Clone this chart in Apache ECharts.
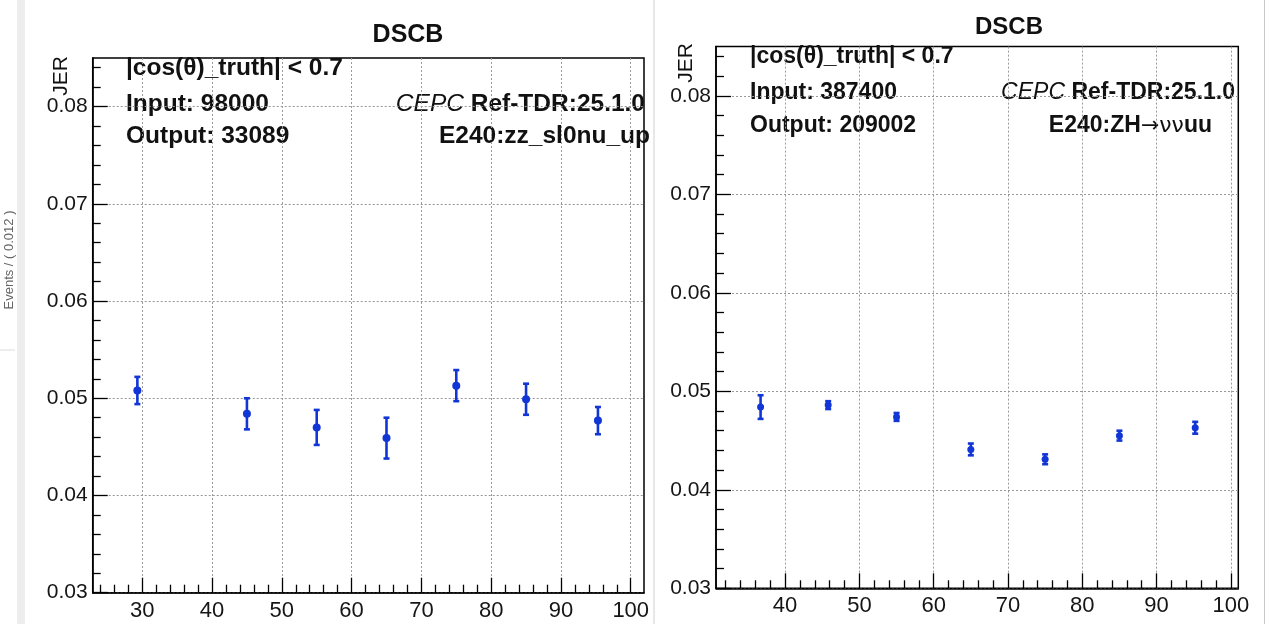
<!DOCTYPE html>
<html>
<head>
<meta charset="utf-8">
<title>DSCB JER</title>
<script src="https://cdn.jsdelivr.net/npm/echarts@6/dist/echarts.min.js"></script>
<style>
    html, body { margin: 0; padding: 0; background: #fff; }
    #main { width: 1269px; height: 624px; }
</style>
</head>
<body>
<div id="main"></div>
<script>
// 左图: E240:zz_sl0nu_up
var leftX = [29.3, 45, 55, 65, 75, 85, 95.3];
var leftJer = [0.0508, 0.0484, 0.0470, 0.0459, 0.0513, 0.0499, 0.0477];
var leftErr = [0.0014, 0.0016, 0.0018, 0.0021, 0.0016, 0.0016, 0.0014];

// 右图: E240:ZH->vvuu
var rightX = [36.7, 45.8, 55, 65, 75, 85, 95.2];
var rightJer = [0.0484, 0.0486, 0.0474, 0.0441, 0.0431, 0.0455, 0.0463];
var rightErr = [0.0012, 0.0004, 0.0004, 0.0006, 0.0005, 0.0005, 0.0006];

// 刻度
var xMajor = [30, 40, 50, 60, 70, 80, 90, 100];
var leftXMinor = [24, 26, 28, 32, 34, 36, 38, 42, 44, 46, 48, 52, 54, 56, 58, 62, 64, 66, 68,
    72, 74, 76, 78, 82, 84, 86, 88, 92, 94, 96, 98];
var rightXMinor = [32, 34, 36, 38, 42, 44, 46, 48, 52, 54, 56, 58, 62, 64, 66, 68,
    72, 74, 76, 78, 82, 84, 86, 88, 92, 94, 96, 98];
var yMajor = [0.03, 0.04, 0.05, 0.06, 0.07, 0.08];
var yMinor = [0.032, 0.034, 0.036, 0.038, 0.042, 0.044, 0.046, 0.048, 0.052, 0.054, 0.056, 0.058,
    0.062, 0.064, 0.066, 0.068, 0.072, 0.074, 0.076, 0.078, 0.082, 0.084];

var BLUE = '#1236d6';
var FONT = '"Liberation Sans", Arial, Helvetica, sans-serif';

var myChart = echarts.init(document.getElementById('main'));

/* 主轴(带标签、网格线) */
var majorAxis = function (gridIndex, min, max, split, ticks, isX) {
    return {
        gridIndex: gridIndex,
        type: 'value',
        min: min,
        max: max,
        splitNumber: split,
        position: isX ? 'bottom' : 'left',
        axisLine: { show: true, onZero: false, lineStyle: { color: '#000', width: 1.5 } },
        axisTick: { show: true, inside: true, length: 15, customValues: ticks, lineStyle: { color: '#000', width: 1.3 } },
        axisLabel: {
            customValues: ticks,
            color: '#151515',
            fontFamily: FONT,
            fontSize: isX ? 22 : 21,
            margin: isX ? 7 : 5,
            formatter: function (v) { return isX ? String(Math.round(v)) : v.toFixed(2); }
        },
        splitLine: { show: true, lineStyle: { color: '#999', width: 1, type: [2, 2] } }
    };
};
/* 副刻度轴 */
var minorAxis = function (gridIndex, min, max, ticks, isX) {
    return {
        gridIndex: gridIndex,
        type: 'value',
        min: min,
        max: max,
        position: isX ? 'bottom' : 'left',
        axisLine: { show: false, onZero: false },
        axisTick: { show: true, inside: true, length: 8, customValues: ticks, lineStyle: { color: '#000', width: 1.3 } },
        axisLabel: { show: false },
        splitLine: { show: false }
    };
};

var renderErrorBar = function (radius) {
    return function (params, api) {
        var x = api.value(0), y = api.value(1), e = api.value(2);
        var hi = api.coord([x, y + e]);
        var lo = api.coord([x, y - e]);
        var mid = api.coord([x, y]);
        var cap = 3;
        var st = { stroke: BLUE, lineWidth: 2.6 };
        return {
            type: 'group',
            children: [
                { type: 'line', shape: { x1: hi[0], y1: hi[1], x2: lo[0], y2: lo[1] }, style: st },
                { type: 'line', shape: { x1: hi[0] - cap, y1: hi[1], x2: hi[0] + cap, y2: hi[1] }, style: st },
                { type: 'line', shape: { x1: lo[0] - cap, y1: lo[1], x2: lo[0] + cap, y2: lo[1] }, style: st },
                { type: 'circle', shape: { cx: mid[0], cy: mid[1], r: radius }, style: { fill: BLUE } }
            ]
        };
    };
};

var toRows = function (xs, ys, es) {
    return xs.map(function (x, i) { return [x, ys[i], es[i]]; });
};

var txt = function (text, x, y, size, align, extra) {
    var el = {
        type: 'text',
        style: {
            text: text, x: x, y: y,
            font: 'bold ' + size + 'px ' + FONT,
            fill: '#111',
            textAlign: align || 'left',
            textVerticalAlign: 'middle'
        }
    };
    if (extra) {
        for (var k in extra) { el.style[k] = extra[k]; }
    }
    return el;
};

var vtxt = function (text, x, y, size, color) {
    return {
        type: 'text', x: x, y: y, rotation: Math.PI / 2,
        style: { text: text, x: 0, y: 0, font: size + 'px ' + FONT, fill: color, textAlign: 'center', textVerticalAlign: 'middle' }
    };
};

var cepcRich = function (size) {
    return {
        i: { fontStyle: 'italic', fontWeight: 'normal', fontSize: size, fontFamily: FONT, color: '#222' },
        b: { fontWeight: 'bold', fontSize: size, fontFamily: FONT, color: '#111' }
    };
};
var zhRich = {
    b: { fontWeight: 'bold', fontSize: 23, fontFamily: FONT, color: '#111' },
    n: { fontWeight: 'normal', fontSize: 22, fontFamily: '"DejaVu Sans", ' + FONT, color: '#222' }
};

var option = {
    backgroundColor: '#fff',
    animation: false,
    grid: [
        { left: 92.7, top: 58, width: 551.3, height: 534.7, show: true, borderColor: '#000', borderWidth: 1.5, backgroundColor: 'transparent' },
        { left: 716, top: 46.6, width: 522.3, height: 541.7, show: true, borderColor: '#000', borderWidth: 1.5, backgroundColor: 'transparent' }
    ],
    xAxis: [
        majorAxis(0, 22.9, 101.9, 8, xMajor, true),
        minorAxis(0, 22.9, 101.9, leftXMinor, true),
        majorAxis(1, 30.7, 101, 7, xMajor, true),
        minorAxis(1, 30.7, 101, rightXMinor, true)
    ],
    yAxis: [
        majorAxis(0, 0.03, 0.085, 5, yMajor, false),
        minorAxis(0, 0.03, 0.085, yMinor, false),
        majorAxis(1, 0.03, 0.085, 5, yMajor, false),
        minorAxis(1, 0.03, 0.085, yMinor, false)
    ],
    series: [
        {
            type: 'custom', xAxisIndex: 0, yAxisIndex: 0, clip: false,
            encode: { x: 0, y: 1 },
            renderItem: renderErrorBar(4),
            data: toRows(leftX, leftJer, leftErr)
        },
        {
            type: 'custom', xAxisIndex: 2, yAxisIndex: 2, clip: false,
            encode: { x: 0, y: 1 },
            renderItem: renderErrorBar(3.5),
            data: toRows(rightX, rightJer, rightErr)
        }
    ],
    graphic: [
        // 截图边缘
        { type: 'rect', shape: { x: 17, y: 0, width: 8, height: 624 }, style: { fill: '#ededed' } },
        { type: 'line', shape: { x1: 0, y1: 350, x2: 15, y2: 350 }, style: { stroke: '#dcdcdc', lineWidth: 1 } },
        { type: 'line', shape: { x1: 654, y1: 0, x2: 654, y2: 624 }, style: { stroke: '#d0d0d0', lineWidth: 1 } },
        { type: 'line', shape: { x1: 1264.5, y1: 0, x2: 1264.5, y2: 624 }, style: { stroke: '#c8c8c8', lineWidth: 1 } },
        vtxt('Events / ( 0.012 )', 9, 260, 13, '#666'),
        vtxt('Events / ( 0.012 )', 1274, 105, 13, '#555'),
        // 左图文字
        txt('DSCB', 408, 35, 25, 'center'),
        vtxt('JER', 61, 76, 21, '#111'),
        txt('|cos(θ)_truth| < 0.7', 126, 68, 24.5),
        txt('Input: 98000', 126, 104, 24.5),
        txt('Output: 33089', 126, 136, 24.5),
        txt('{i|CEPC} {b|Ref-TDR:25.1.0}', 645, 104, 24.5, 'right', { rich: cepcRich(24.5) }),
        txt('E240:zz_sl0nu_up', 650, 136, 24.5, 'right'),
        // 右图文字
        txt('DSCB', 1009, 27, 24, 'center'),
        vtxt('JER', 686, 63, 21, '#111'),
        txt('|cos(θ)_truth| < 0.7', 750, 57, 23),
        txt('Input: 387400', 750, 93, 23),
        txt('Output: 209002', 750, 126, 23),
        txt('{i|CEPC} {b|Ref-TDR:25.1.0}', 1235, 93, 23, 'right', { rich: cepcRich(23) }),
        txt('{b|E240:ZH}{n|→νν}{b|uu}', 1212, 126, 23, 'right', { rich: zhRich })
    ]
};

myChart.setOption(option);
</script>
</body>
</html>
